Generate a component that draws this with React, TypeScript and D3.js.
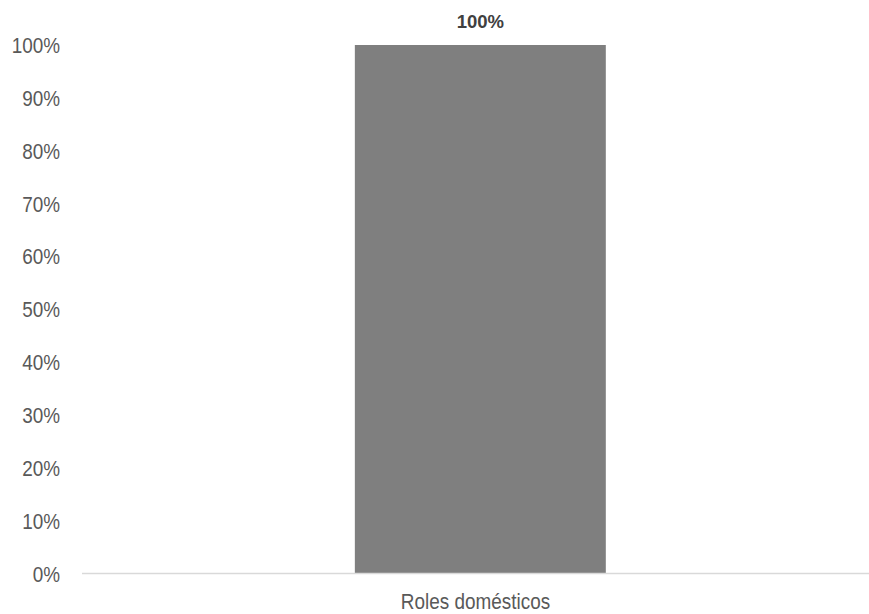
import React from "react";
import * as d3 from "d3";

const categories = ["Roles domésticos"];
const values = [1.0];
const yTicks = [0, 0.1, 0.2, 0.3, 0.4, 0.5, 0.6, 0.7, 0.8, 0.9, 1.0];

const W = 869;
const H = 614;
const left = 82;
const right = 869;
const top = 45;
const bottom = 573.5;

export default function App() {
  const x = d3
    .scaleBand<string>()
    .domain(categories)
    .range([left, right])
    .paddingInner(0)
    .paddingOuter(1.068)
    .align(0.509);
  const y = d3.scaleLinear().domain([0, 1]).range([bottom, top]);
  const fmt = d3.format(".0%");
  const axisFont = "'Liberation Sans', Arial, sans-serif";
  return (
    <svg
      width={W}
      height={H}
      style={{ position: "absolute", left: 0, top: 0, background: "#fff" }}
    >
      {yTicks.map((t) => (
        <text
          key={t}
          transform={`translate(60,${y(t)}) scale(0.86,1)`}
          textAnchor="end"
          dominantBaseline="central"
          fontFamily={axisFont}
          fontSize={22}
          fill="#595959"
        >
          {fmt(t)}
        </text>
      ))}
      {categories.map((c, i) => (
        <g key={c}>
          <rect
            x={x(c)}
            y={y(values[i])}
            width={x.bandwidth()}
            height={y(0) - y(values[i])}
            fill="#7f7f7f"
          />
          <text
            x={(x(c) as number) + x.bandwidth() / 2}
            y={y(values[i]) - 17}
            textAnchor="middle"
            fontFamily="'Liberation Sans', Arial, sans-serif"
            fontWeight="bold"
            fontSize={18.5}
            fill="#404040"
          >
            {fmt(values[i])}
          </text>
        </g>
      ))}
      <line x1={left} x2={right} y1={y(0)} y2={y(0)} stroke="#d9d9d9" strokeWidth={1.5} />
      {categories.map((c) => (
        <text
          key={c + "-lbl"}
          transform={`translate(${(left + right) / 2},609) scale(0.88,1)`}
          textAnchor="middle"
          fontFamily={axisFont}
          fontSize={21.5}
          fill="#595959"
        >
          {c}
        </text>
      ))}
    </svg>
  );
}
